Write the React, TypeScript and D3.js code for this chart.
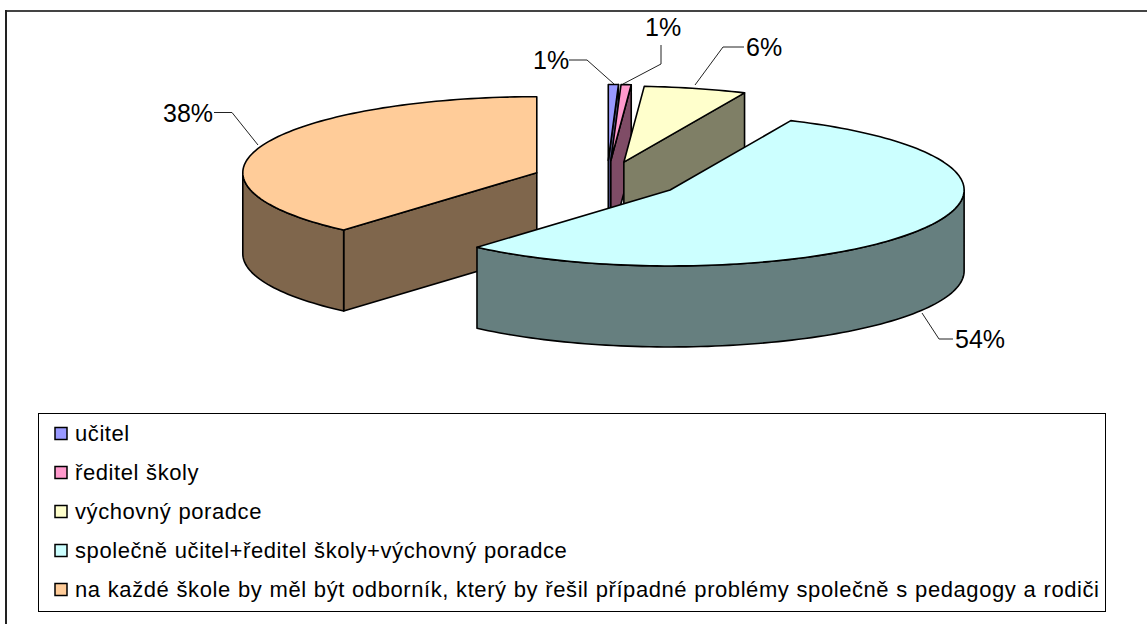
import { useEffect, useRef } from "react";
import * as d3 from "d3";

const categories = [
  "učitel",
  "ředitel školy",
  "výchovný poradce",
  "společně učitel+ředitel školy+výchovný poradce",
  "na každé škole by měl být odborník, který by řešil případné problémy společně s pedagogy a rodiči",
];
// the labels show them rounded
const values = [0.55, 0.55, 5.6, 54.4, 38.4];
const topColors = ["#9999FF", "#FF99CC", "#FFFFCC", "#CCFFFF", "#FFCC99"];
const wallColors = ["#4C4C7F", "#7F4C66", "#7F7F66", "#667F7F", "#7F664C"];

const width = 1147;
const height = 624;
const font = "'Liberation Sans', Arial, sans-serif";

const pieCx = 607;
const pieCy = 179.5;
const rx = 294;
const ry = 76;
const depth = 81;
const explode = [0.25, 0.25, 0.235, 0.255, 0.255];

// label position and leader line per slice
const leaders = [
  { label: [533, 69], line: [[569, 60], [587, 60], [614, 84]] },
  { label: [645, 36], line: [[661, 45], [661, 64], [623, 84]] },
  { label: [746, 56], line: [[744, 47], [723, 47], [695, 85]] },
  { label: [955, 348], line: [[953, 339], [939, 339], [922, 313]] },
  { label: [163, 122], line: [[214, 112.5], [232, 112.5], [258, 145]] },
];

export default function App() {
  const ref = useRef<SVGSVGElement>(null);

  useEffect(() => {
    const svg = d3.select(ref.current);
    svg.selectAll("*").remove();

    // the chart frame runs off the page on the right and at the bottom
    svg.append("line")
      .attr("x1", 5).attr("x2", width).attr("y1", 11).attr("y2", 11)
      .attr("stroke", "#444").attr("stroke-width", 2);
    svg.append("line")
      .attr("x1", 6).attr("x2", 6).attr("y1", 10).attr("y2", height)
      .attr("stroke", "#222").attr("stroke-width", 2);

    const arcs = d3.pie<number>().sort(null)(values);

    const pt = (c: number[], a: number, dy = 0) => [
      c[0] + rx * Math.sin(a),
      c[1] - ry * Math.cos(a) + dy,
    ];
    const arcPts = (c: number[], a0: number, a1: number, dy = 0) => {
      const n = Math.max(2, Math.ceil(Math.abs(a1 - a0) * 40));
      return d3.range(n + 1).map(i => pt(c, a0 + (a1 - a0) * i / n, dy));
    };
    const line = d3.line();

    const g = svg.append("g")
      .attr("stroke", "black")
      .attr("stroke-width", 1.6)
      .attr("stroke-linejoin", "round");

    // painter's order: the back slice first
    [4, 0, 1, 2, 3].forEach(i => {
      const d = arcs[i];
      const mid = (d.startAngle + d.endAngle) / 2;
      const c = [
        pieCx + explode[i] * rx * Math.sin(mid),
        pieCy - explode[i] * ry * Math.cos(mid),
      ];
      const start = pt(c, d.startAngle);
      const end = pt(c, d.endAngle);
      const bottom = [c[0], c[1] + depth];
      const walls: number[][][] = [];

      // the cut faces turned towards the viewer
      if (Math.sin(d.startAngle) < -1e-6) {
        walls.push([c, start, pt(c, d.startAngle, depth), bottom]);
      }
      if (Math.sin(d.endAngle) > 1e-6) {
        walls.push([c, end, pt(c, d.endAngle, depth), bottom]);
      }
      // outer rim, only the part in front
      const rimFrom = Math.max(d.startAngle, Math.PI / 2);
      const rimTo = Math.min(d.endAngle, 1.5 * Math.PI);
      if (rimFrom < rimTo) {
        walls.push([
          ...arcPts(c, rimFrom, rimTo),
          ...arcPts(c, rimTo, rimFrom, depth),
        ]);
      }
      walls.forEach(w => {
        g.append("path")
          .attr("d", line(w as [number, number][]) + "Z")
          .attr("fill", wallColors[i]);
      });

      g.append("path")
        .attr("d", line([c, ...arcPts(c, d.startAngle, d.endAngle)] as [number, number][]) + "Z")
        .attr("fill", topColors[i]);
    });

    leaders.forEach((l, i) => {
      svg.append("path")
        .attr("d", line(l.line as [number, number][]))
        .attr("fill", "none")
        .attr("stroke", "#222")
        .attr("stroke-width", 1);
      svg.append("text")
        .attr("x", l.label[0]).attr("y", l.label[1])
        .attr("font-family", font)
        .attr("font-size", 25)
        .attr("fill", "black")
        .text(`${Math.round(values[i])}%`);
    });

    // legend
    const legend = svg.append("g");
    legend.append("rect")
      .attr("x", 38.5).attr("y", 413.5)
      .attr("width", 1067).attr("height", 198)
      .attr("fill", "white").attr("stroke", "black");

    const y = d3.scalePoint<string>()
      .domain(categories)
      .range([433.5, 589.5]);

    categories.forEach((c, i) => {
      const yy = y(c)!;
      legend.append("rect")
        .attr("x", 55).attr("y", yy - 6)
        .attr("width", 12).attr("height", 12)
        .attr("fill", topColors[i])
        .attr("stroke", "black")
        .attr("stroke-width", 1.5);
      legend.append("text")
        .attr("x", 75).attr("y", yy + 7)
        .attr("font-family", font)
        .attr("font-size", 22)
        .attr("letter-spacing", 0.57)
        .attr("word-spacing", 0.5)
        .attr("fill", "black")
        .text(c);
    });
  }, []);

  return (
    <svg
      ref={ref}
      width={width}
      height={height}
      style={{ position: "absolute", left: 0, top: 0, background: "white" }}
    />
  );
}
